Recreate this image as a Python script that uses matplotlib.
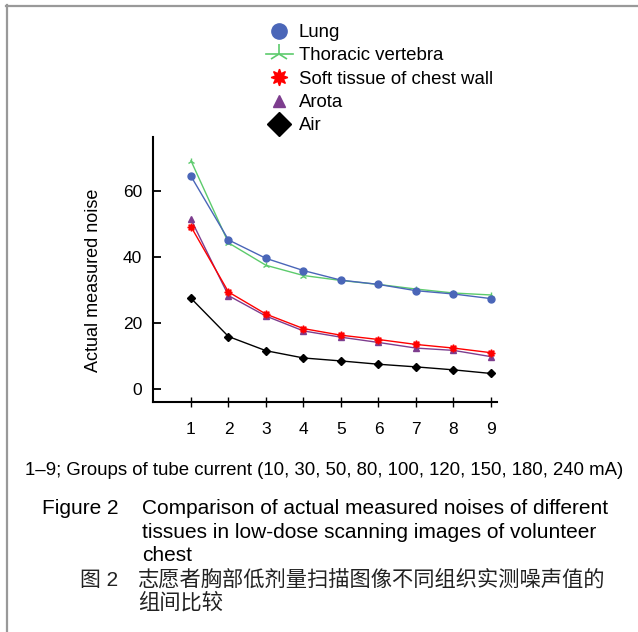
import matplotlib
matplotlib.use('Agg')
import matplotlib.pyplot as plt
from matplotlib.lines import Line2D

plt.rcParams['font.family'] = ['Liberation Sans', 'Noto Sans CJK SC', 'DejaVu Sans']

groups = [1, 2, 3, 4, 5, 6, 7, 8, 9]
lung = [64.6, 45.3, 39.7, 36.0, 33.1, 31.8, 29.9, 28.9, 27.5]
thoracic = [69.3, 44.4, 37.6, 34.5, 33.0, 31.8, 30.4, 29.2, 28.6]
soft_tissue = [49.3, 29.5, 22.8, 18.4, 16.4, 15.1, 13.6, 12.5, 11.1]
arota = [51.5, 28.4, 22.2, 17.7, 15.8, 14.2, 12.5, 11.8, 9.9]
air = [27.6, 16.0, 11.7, 9.5, 8.6, 7.6, 6.8, 5.9, 4.8]

labels = ['Lung', 'Thoracic vertebra', 'Soft tissue of chest wall', 'Arota', 'Air']
colors = ['#4a66b8', '#5ccb6c', '#ff0000', '#7d3d8e', '#000000']
star8 = (8, 1, 0)

W, H = 638, 632
fig = plt.figure(figsize=(W / 100, H / 100), dpi=100)
ax = fig.add_axes([153 / W, 1 - 402 / H, 344 / W, 265 / H])

ax.plot(groups, thoracic, color=colors[1], lw=1.0, marker='2', ms=5, mew=1.0)
ax.plot(groups, lung, color=colors[0], lw=1.0, marker='o', ms=5)
ax.plot(groups, arota, color=colors[3], lw=1.0, marker='^', ms=4.5)
ax.plot(groups, soft_tissue, color=colors[2], lw=1.0, marker=star8, ms=5.5)
ax.plot(groups, air, color=colors[4], lw=1.0, marker='D', ms=4.5)

ax.set_xlim(-0.013, 9.16)
ax.set_ylim(-3.85, 76.5)
ax.set_xticks(groups)
ax.set_yticks([0, 20, 40, 60])
for s in ['top', 'right']:
    ax.spines[s].set_visible(False)
for s in ['left', 'bottom']:
    ax.spines[s].set_linewidth(1.5)
ax.tick_params(axis='y', direction='in', length=6, width=1.3, pad=8, labelsize=12.5)
ax.tick_params(axis='x', direction='inout', length=7, width=1.0, pad=11, labelsize=12.5)

fig.text(93 / W, 1 - 280 / H, 'Actual measured noise', rotation=90,
         ha='center', va='center', fontsize=13)

handles = [
    Line2D([], [], ls='none', marker='o', color=colors[0], ms=11),
    Line2D([], [], ls='-', lw=1.2, marker='2', color=colors[1], ms=14, mew=1.2),
    Line2D([], [], ls='none', marker=star8, color=colors[2], ms=12),
    Line2D([], [], ls='none', marker='^', color=colors[3], ms=9),
    Line2D([], [], ls='none', marker='D', color=colors[4], ms=12),
]
fig.legend(handles, labels, loc='upper left', bbox_to_anchor=(266 / W, 1 - 24 / H),
           frameon=False, fontsize=13.4, handlelength=1.45, handletextpad=0.3,
           labelspacing=0.34, borderpad=0, borderaxespad=0)

fig.text(25 / W, 1 - 475 / H,
         '1–9; Groups of tube current (10, 30, 50, 80, 100, 120, 150, 180, 240 mA)',
         ha='left', va='baseline', fontsize=13.4)
fig.text(42 / W, 1 - 514 / H, 'Figure 2', ha='left', va='baseline', fontsize=15)
cap = ['Comparison of actual measured noises of different',
       'tissues in low-dose scanning images of volunteer',
       'chest']
for i, line in enumerate(cap):
    fig.text(142 / W, 1 - (514 + 23.5 * i) / H, line, ha='left', va='baseline', fontsize=15)
fig.text(80 / W, 1 - 586 / H, '图 2', ha='left', va='baseline', fontsize=15, color='#222222')
fig.text(138 / W, 1 - 586 / H, '志愿者胸部低剂量扫描图像不同组织实测噪声值的',
         ha='left', va='baseline', fontsize=15.3, color='#222222')
fig.text(138 / W, 1 - 609 / H, '组间比较', ha='left', va='baseline', fontsize=15.3, color='#222222')

# gray frame on top and left edges
fig.add_artist(Line2D([6 / W, 1], [1 - 5.5 / H, 1 - 5.5 / H], color='#999999', lw=1.6))
fig.add_artist(Line2D([6.5 / W, 6.5 / W], [0, 1 - 5 / H], color='#999999', lw=1.6))

fig.savefig('out.png', dpi=100)
